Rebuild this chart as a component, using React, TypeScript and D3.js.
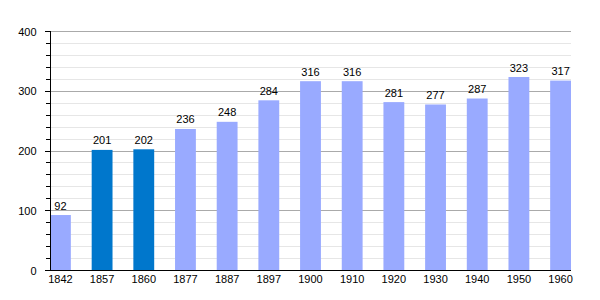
import React from "react";
import * as d3 from "d3";

const years = ["1842", "1857", "1860", "1877", "1887", "1897", "1900", "1910", "1920", "1930", "1940", "1950", "1960"];
const population = [92, 201, 202, 236, 248, 284, 316, 316, 281, 277, 287, 323, 317];
const highlighted = ["1857", "1860"];
const yTicks = [0, 100, 200, 300, 400];

const W = 600, H = 300;
const left = 50, right = 571, top = 31, bottom = 270;

export default function App() {
  const x = d3.scaleBand<string>().domain(years).range([left, right]).paddingInner(0.5).paddingOuter(0);
  const y = d3.scaleLinear().domain([0, 400]).range([bottom, top]);
  const minor = d3.range(0, 401, 20).filter((v) => v % 100 !== 0);
  const font = "'Liberation Sans', Arial, sans-serif";
  return (
    <svg width={W} height={H} style={{ position: "absolute", left: 0, top: 0, background: "#fff" }} fontFamily={font}>
      {minor.map((v) => (
        <line key={"m" + v} x1={left} x2={right} y1={Math.round(y(v)) + 0.5} y2={Math.round(y(v)) + 0.5} stroke="#e6e6e6" />
      ))}
      {yTicks.filter((v) => v > 0).map((v) => (
        <line key={"M" + v} x1={left} x2={right} y1={Math.round(y(v)) + 0.5} y2={Math.round(y(v)) + 0.5} stroke="#aaaaaa" />
      ))}
      {years.map((yr, i) => {
        const v = population[i];
        const bx = x(yr)!;
        return (
          <g key={yr}>
            <rect x={bx} y={y(v)} width={x.bandwidth()} height={bottom - y(v)} fill={highlighted.includes(yr) ? "#0077cc" : "#99aaff"} />
            <text x={bx + x.bandwidth() / 2} y={y(v) - 5.5} textAnchor="middle" fontSize={11} fill="#000">{v}</text>
            <text x={bx + x.bandwidth() / 2} y={bottom + 12.5} textAnchor="middle" fontSize={11} fill="#000">{yr}</text>
          </g>
        );
      })}
      {minor.map((v) => (
        <line key={"mt" + v} x1={46} x2={left} y1={Math.round(y(v)) + 0.5} y2={Math.round(y(v)) + 0.5} stroke="#000" />
      ))}
      {yTicks.map((v) => (
        <g key={"t" + v}>
          <line x1={45} x2={left} y1={Math.round(y(v)) + 0.5} y2={Math.round(y(v)) + 0.5} stroke="#000" />
          <text x={36.5} y={y(v) + 4.5} textAnchor="end" fontSize={11} fill="#000">{v}</text>
        </g>
      ))}
      <line x1={left + 0.5} x2={left + 0.5} y1={top} y2={bottom + 0.5} stroke="#000" />
      <line x1={45} x2={right} y1={bottom + 0.5} y2={bottom + 0.5} stroke="#000" />
    </svg>
  );
}
